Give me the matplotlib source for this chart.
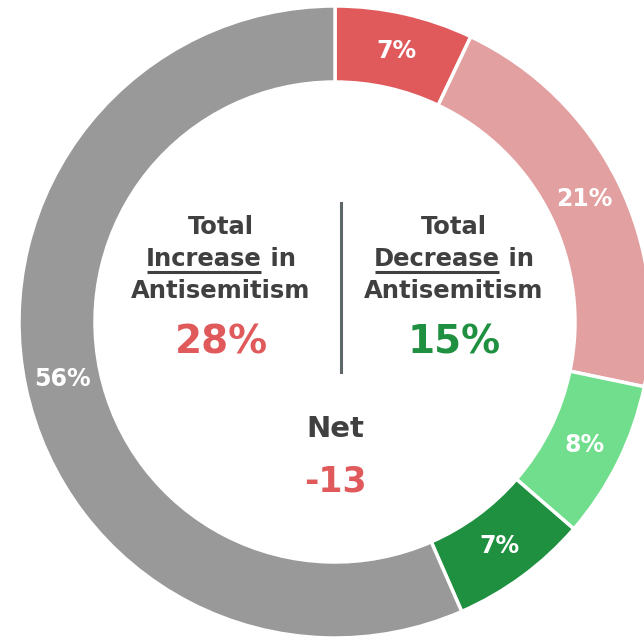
import numpy as np
import matplotlib
matplotlib.use("Agg")
import matplotlib.pyplot as plt

# Share of respondents by change in antisemitism (clockwise from top)
categories = ["Increased a lot", "Increased a little", "Decreased a little",
              "Decreased a lot", "No change"]
values = [7, 21, 8, 7, 56]
slice_labels = ["7%", "21%", "8%", "7%", "56%"]
colors = ["#e05a5c", "#e3a0a0", "#70de8c", "#1e9040", "#999999"]

total_increase = "28%"
total_decrease = "15%"
net_value = "-13"

TEXT = "#404040"
RED = "#e05a5c"
GREEN = "#1e9040"

W, H = 644, 640
fig = plt.figure(figsize=(W / 100, H / 100), dpi=100)
ax = fig.add_axes([0, 0, 1, 1])

cx, cy = 335, H - 322
R, ring = 316, 76

wedges, _ = ax.pie(values, colors=colors, startangle=90, counterclock=False,
                   radius=R, center=(cx, cy), frame=True,
                   wedgeprops=dict(width=ring, edgecolor="white", linewidth=2.5))
ax.set_xlim(0, W)
ax.set_ylim(0, H)
ax.set_aspect("equal")
ax.axis("off")

# white percentage labels in the middle of the ring
r_lab = R - ring / 2
for w, lab in zip(wedges, slice_labels):
    ang = np.deg2rad((w.theta1 + w.theta2) / 2)
    ax.text(cx + r_lab * np.cos(ang), cy + r_lab * np.sin(ang), lab,
            color="white", fontsize=17, fontweight="bold",
            ha="center", va="center")

fs_head = 17.5
renderer = fig.canvas.get_renderer()


def yy(py):
    return H - py


def text_width(s, size):
    t = ax.text(0, 0, s, fontsize=size, fontweight="bold")
    bb = t.get_window_extent(renderer=renderer)
    t.remove()
    return bb.width


def underlined_line(xc, py, word, rest, size):
    w1 = text_width(word, size)
    w2 = text_width(rest, size)
    x0 = xc - (w1 + w2) / 2
    ax.text(x0, yy(py), word, fontsize=size, fontweight="bold", color=TEXT,
            ha="left", va="center")
    ax.text(x0 + w1, yy(py), rest, fontsize=size, fontweight="bold", color=TEXT,
            ha="left", va="center")
    ax.plot([x0 + 1, x0 + w1 - 1], [yy(py + 13), yy(py + 13)],
            color=TEXT, lw=2.2, solid_capstyle="butt")


for xc, word, big, col in [(221, "Increase", total_increase, RED),
                           (454, "Decrease", total_decrease, GREEN)]:
    ax.text(xc, yy(227), "Total", fontsize=fs_head, fontweight="bold",
            color=TEXT, ha="center", va="center")
    underlined_line(xc, 259, word, " in", fs_head)
    ax.text(xc, yy(291), "Antisemitism", fontsize=fs_head, fontweight="bold",
            color=TEXT, ha="center", va="center")
    ax.text(xc, yy(343), big, fontsize=28, fontweight="bold",
            color=col, ha="center", va="center")

# divider between the two totals
ax.plot([341, 341], [yy(203), yy(372)], color="#5f6868", lw=2.2)

ax.text(335, yy(429), "Net", fontsize=21, fontweight="bold", color=TEXT,
        ha="center", va="center")
ax.text(335, yy(482), net_value, fontsize=25, fontweight="bold", color=RED,
        ha="center", va="center")

fig.savefig("out.png", dpi=100, facecolor="white")
